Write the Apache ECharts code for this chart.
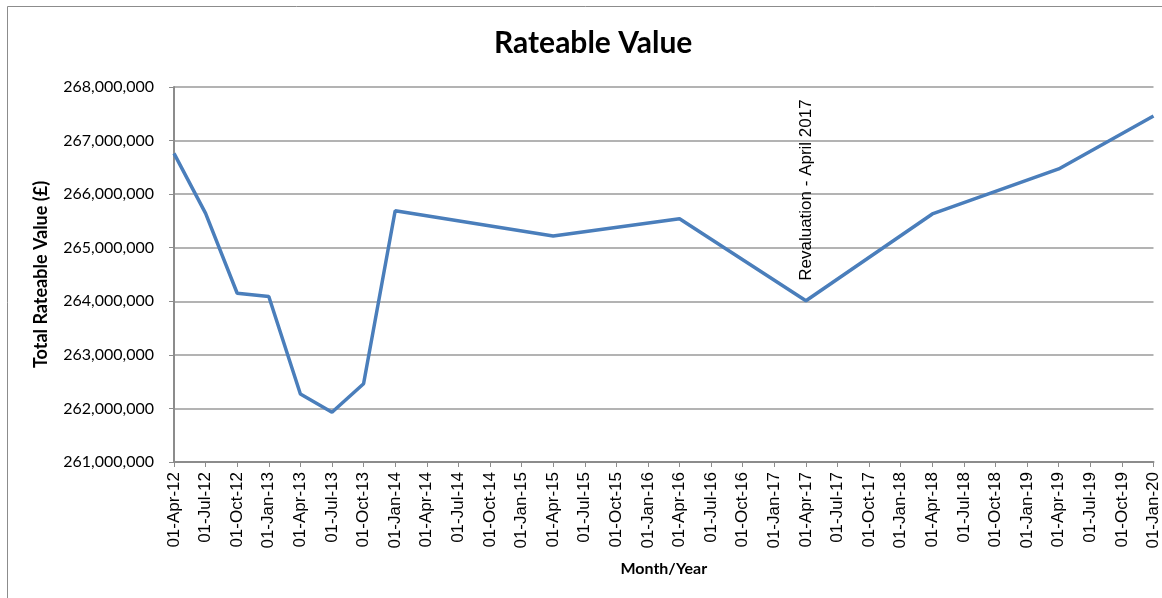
<!DOCTYPE html>
<html>
<head>
<meta charset="utf-8">
<script src="https://cdn.jsdelivr.net/npm/echarts@6/dist/echarts.min.js"></script>
<style>
  html, body { margin: 0; padding: 0; background: #fff; }
  #main { width: 1162px; height: 598px; }
</style>
</head>
<body>
<div id="main"></div>
<script>
// quarterly dates on the category axis
var categories = [
  '01-Apr-12', '01-Jul-12', '01-Oct-12', '01-Jan-13',
  '01-Apr-13', '01-Jul-13', '01-Oct-13', '01-Jan-14',
  '01-Apr-14', '01-Jul-14', '01-Oct-14', '01-Jan-15',
  '01-Apr-15', '01-Jul-15', '01-Oct-15', '01-Jan-16',
  '01-Apr-16', '01-Jul-16', '01-Oct-16', '01-Jan-17',
  '01-Apr-17', '01-Jul-17', '01-Oct-17', '01-Jan-18',
  '01-Apr-18', '01-Jul-18', '01-Oct-18', '01-Jan-19',
  '01-Apr-19', '01-Jul-19', '01-Oct-19', '01-Jan-20'
];

// total rateable value (£), null where no reading
var rateableValue = [
  266760000, 265640000, 264150000, 264090000,
  262270000, 261930000, 262460000, 265690000,
  null, null, null, null,
  265220000, null, null, null,
  265540000, null, null, null,
  264010000, null, null, null,
  265630000, null, null, null,
  266470000, null, null, 267460000
];

var yTicks = [261000000, 262000000, 263000000, 264000000, 265000000, 266000000, 267000000, 268000000];

var noteIndex = categories.indexOf('01-Apr-17');
var noteText = 'Revaluation - April 2017';

var chartDom = document.getElementById('main');
var myChart = echarts.init(chartDom);

var option = {
  animation: false,
  backgroundColor: '#fff',
  graphic: [{
    type: 'rect',
    shape: { x: 7.5, y: 6.5, width: 1300, height: 700 },
    style: { fill: 'none', stroke: '#8c8c8c', lineWidth: 1 },
    silent: true
  }],
  title: {
    text: 'Rateable Value',
    left: 489,
    top: 23,
    textStyle: {
      fontFamily: 'Lato',
      fontWeight: 'bold',
      fontSize: 30,
      color: '#000'
    }
  },
  grid: {
    left: 174,
    right: 4,
    top: 87,
    bottom: 136
  },
  xAxis: {
    type: 'category',
    data: categories,
    boundaryGap: false,
    name: 'Month/Year',
    nameLocation: 'middle',
    nameGap: 99,
    nameTextStyle: {
      fontFamily: 'Lato',
      fontWeight: 'bold',
      fontSize: 16,
      color: '#000'
    },
    axisLine: { lineStyle: { color: '#8c8c8c', width: 2 } },
    axisTick: { show: true, length: 5, lineStyle: { color: '#8c8c8c' } },
    axisLabel: {
      rotate: 90,
      interval: 0,
      margin: 10,
      fontFamily: 'Liberation Sans',
      fontSize: 17,
      color: '#000'
    },
    splitLine: { show: false }
  },
  yAxis: {
    type: 'value',
    min: yTicks[0],
    max: yTicks[yTicks.length - 1],
    interval: 1000000,
    name: 'Total Rateable Value (£)',
    nameLocation: 'middle',
    nameGap: 124,
    nameRotate: 90,
    nameTextStyle: {
      fontFamily: 'Lato',
      fontWeight: 'bold',
      fontSize: 18,
      color: '#000'
    },
    axisLine: { show: true, lineStyle: { color: '#8c8c8c', width: 2 } },
    axisTick: { show: true, length: 5, lineStyle: { color: '#8c8c8c' } },
    axisLabel: {
      margin: 20,
      fontFamily: 'Lato',
      fontSize: 16,
      color: '#000',
      formatter: function (v) { return v.toLocaleString('en-GB'); }
    },
    splitLine: { lineStyle: { color: '#9a9a9a', width: 1.5 } }
  },
  series: [{
    name: 'Total Rateable Value',
    type: 'line',
    data: rateableValue,
    connectNulls: true,
    showSymbol: false,
    symbol: 'none',
    lineStyle: { color: '#4a7ebb', width: 3.5 },
    itemStyle: { color: '#4a7ebb' },
    markPoint: {
      symbol: 'circle',
      symbolSize: 0,
      silent: true,
      data: [{
        coord: [noteIndex, rateableValue[noteIndex]],
        label: {
          show: true,
          formatter: noteText,
          position: 'top',
          distance: 20,
          rotate: 90,
          align: 'left',
          verticalAlign: 'middle',
          color: '#000',
          fontFamily: 'Liberation Sans',
          fontSize: 17
        }
      }]
    }
  }]
};

myChart.setOption(option);
</script>
</body>
</html>
